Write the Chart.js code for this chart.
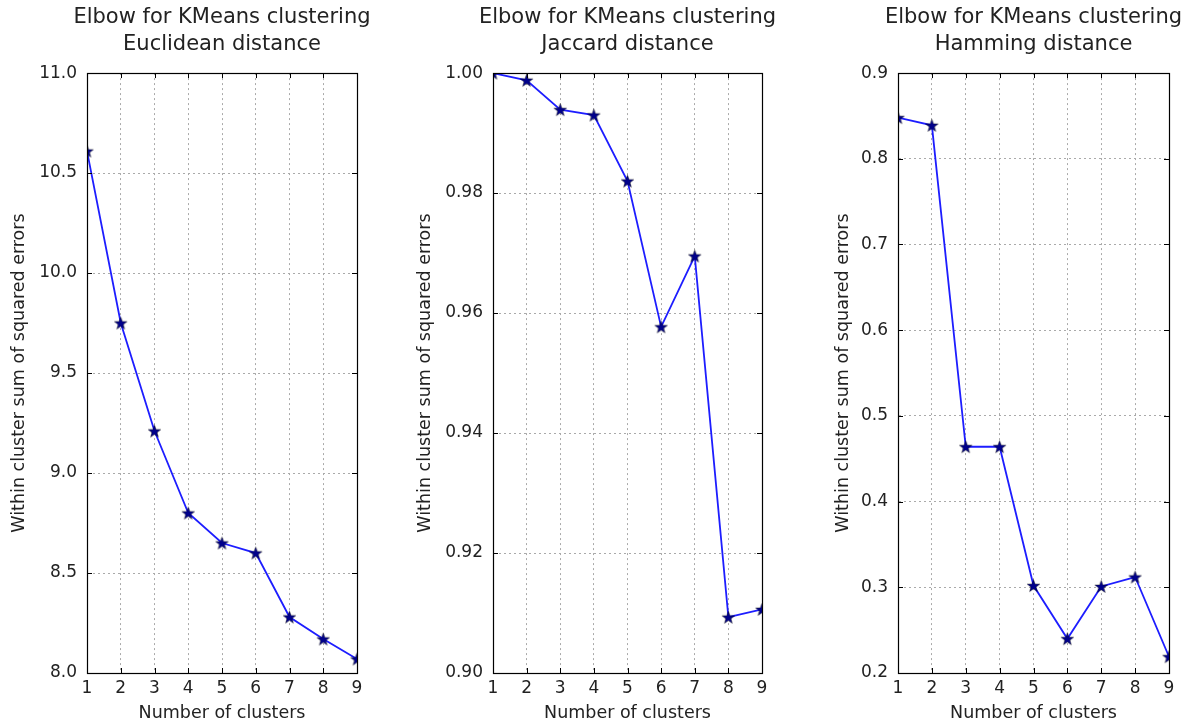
<!DOCTYPE html>
<html>
<head>
<meta charset="utf-8">
<script src="https://cdn.jsdelivr.net/npm/chart.js@4.4.1/dist/chart.umd.min.js"></script>
<style>
  html, body { margin: 0; padding: 0; background: #fff; overflow: hidden; width: 1191px; height: 726px; }
  canvas { position: absolute; top: 0; }
</style>
</head>
<body>
<canvas id="c1" width="444" height="726" style="left:0px"></canvas>
<canvas id="c2" width="455" height="726" style="left:400px"></canvas>
<canvas id="c3" width="457" height="726" style="left:805px"></canvas>
<script>
// ---- data ----
const categories = [1, 2, 3, 4, 5, 6, 7, 8, 9];
const euclidean = [10.61, 9.75, 9.21, 8.80, 8.65, 8.60, 8.28, 8.17, 8.07];
const jaccard   = [1.000, 0.9988, 0.9939, 0.9930, 0.9820, 0.9577, 0.9695, 0.9093, 0.9106];
const hamming   = [0.848, 0.839, 0.464, 0.464, 0.302, 0.240, 0.301, 0.312, 0.219];

const xTicks = [1, 2, 3, 4, 5, 6, 7, 8, 9];
const yTicksEuclid  = [8.0, 8.5, 9.0, 9.5, 10.0, 10.5, 11.0];
const yLabelsEuclid = ['8.0', '8.5', '9.0', '9.5', '10.0', '10.5', '11.0'];
const yTicksJaccard  = [0.90, 0.92, 0.94, 0.96, 0.98, 1.00];
const yLabelsJaccard = ['0.90', '0.92', '0.94', '0.96', '0.98', '1.00'];
const yTicksHamming  = [0.2, 0.3, 0.4, 0.5, 0.6, 0.7, 0.8, 0.9];
const yLabelsHamming = ['0.2', '0.3', '0.4', '0.5', '0.6', '0.7', '0.8', '0.9'];

const titles = [
  ['Elbow for KMeans clustering', 'Euclidean distance'],
  ['Elbow for KMeans clustering', 'Jaccard distance'],
  ['Elbow for KMeans clustering', 'Hamming distance']
];
const xTitle = 'Number of clusters';
const yTitle = 'Within cluster sum of squared errors';

// ---- star marker ----
function makeStar() {
  const s = 15, c = document.createElement('canvas');
  c.width = s; c.height = s;
  const g = c.getContext('2d');
  const cx = s / 2, cy = s / 2 + 0.6, R = 6.6, r = 2.7;
  g.beginPath();
  for (let i = 0; i < 10; i++) {
    const rad = i % 2 === 0 ? R : r;
    const a = -Math.PI / 2 + i * Math.PI / 5;
    const px = cx + rad * Math.cos(a), py = cy + rad * Math.sin(a);
    if (i === 0) g.moveTo(px, py); else g.lineTo(px, py);
  }
  g.closePath();
  g.fillStyle = '#00008b';
  g.fill();
  g.lineWidth = 0.6;
  g.strokeStyle = 'rgba(0,0,0,0.7)';
  g.stroke();
  return c;
}
const star = makeStar();

const FONT = "'DejaVu Sans', sans-serif";
const TXT = '#222';

const framePlugin = {
  id: 'frame',
  afterDatasetsDraw(chart) {
    const { ctx, chartArea: a, scales } = chart;
    ctx.save();
    ctx.strokeStyle = '#000';
    ctx.lineWidth = 1;
    ctx.setLineDash([]);
    const L = 5;
    ctx.beginPath();
    scales.x.ticks.forEach(t => {
      const px = Math.round(scales.x.getPixelForValue(t.value)) + 0.5;
      ctx.moveTo(px, a.bottom); ctx.lineTo(px, a.bottom - L);
      ctx.moveTo(px, a.top); ctx.lineTo(px, a.top + L);
    });
    scales.y.ticks.forEach(t => {
      const py = Math.round(scales.y.getPixelForValue(t.value)) + 0.5;
      ctx.moveTo(a.left, py); ctx.lineTo(a.left + L, py);
      ctx.moveTo(a.right, py); ctx.lineTo(a.right - L, py);
    });
    ctx.stroke();
    ctx.lineWidth = 1.2;
    ctx.strokeRect(Math.round(a.left) + 0.5, Math.round(a.top) + 0.5,
                   Math.round(a.right - a.left), Math.round(a.bottom - a.top));
    ctx.restore();
  }
};

function makeChart(id, title, values, yTicks, yLabels, yAxisW, yTitlePad) {
  const ymin = yTicks[0], ymax = yTicks[yTicks.length - 1];
  return new Chart(document.getElementById(id), {
    type: 'line',
    data: {
      datasets: [{
        data: categories.map((k, i) => ({ x: k, y: values[i] })),
        borderColor: 'rgba(10,10,255,0.92)',
        borderWidth: 1.8,
        pointStyle: star,
        pointRadius: 6,
        pointHoverRadius: 6,
        tension: 0,
        fill: false,
        clip: 0
      }]
    },
    options: {
      responsive: false,
      animation: false,
      devicePixelRatio: 1,
      layout: { padding: 0 },
      plugins: {
        legend: { display: false },
        tooltip: { enabled: false },
        title: {
          display: true,
          text: title,
          color: TXT,
          font: { family: FONT, size: 21, weight: 'normal', lineHeight: 1.24 },
          padding: { top: 5, bottom: 16 }
        }
      },
      scales: {
        x: {
          type: 'linear',
          min: 1, max: 9,
          afterBuildTicks(s) { s.ticks = xTicks.map(v => ({ value: v })); },
          afterFit(s) { s.height = 53; },
          ticks: {
            color: TXT,
            font: { family: FONT, size: 17 },
            padding: 5,
            maxRotation: 0,
            autoSkip: false,
            callback: v => String(v)
          },
          grid: { color: '#aaaaaa', lineWidth: 1, drawTicks: false },
          border: { display: true, color: '#000', dash: [2, 3] },
          title: {
            display: true, text: xTitle, color: TXT,
            font: { family: FONT, size: 17.5, lineHeight: 1.2 },
            padding: { top: 0, bottom: 2.5 }
          }
        },
        y: {
          type: 'linear',
          min: ymin, max: ymax,
          afterBuildTicks(s) { s.ticks = yTicks.map(v => ({ value: v })); },
          afterFit(s) { s.width = yAxisW; },
          ticks: {
            color: TXT,
            font: { family: FONT, size: 17 },
            padding: 10,
            autoSkip: false,
            callback: (v) => {
              const i = yTicks.findIndex(t => Math.abs(t - v) < 1e-9);
              return i >= 0 ? yLabels[i] : '';
            }
          },
          grid: { color: '#aaaaaa', lineWidth: 1, drawTicks: false },
          border: { display: true, color: '#000', dash: [2, 3] },
          title: {
            display: true, text: yTitle, color: TXT,
            font: { family: FONT, size: 17.5, lineHeight: 1.2 },
            padding: { top: yTitlePad, bottom: 0 }
          }
        },
        yPad: {
          type: 'linear',
          position: 'right',
          min: ymin, max: ymax,
          afterFit(s) { s.width = yAxisW; },
          ticks: { display: false },
          grid: { display: false, drawTicks: false },
          border: { display: false }
        }
      }
    },
    plugins: [framePlugin]
  });
}

makeChart('c1', titles[0], euclidean, yTicksEuclid, yLabelsEuclid, 87, 8.5);
makeChart('c2', titles[1], jaccard, yTicksJaccard, yLabelsJaccard, 93, 14.5);
makeChart('c3', titles[2], hamming, yTicksHamming, yLabelsHamming, 93, 27.5);
</script>
</body>
</html>
